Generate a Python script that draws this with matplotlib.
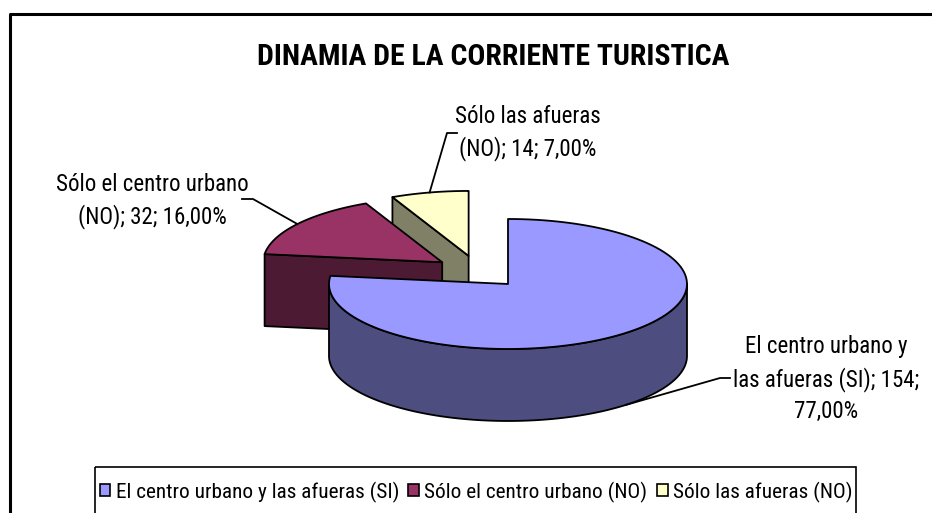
import numpy as np
import matplotlib
matplotlib.use("Agg")
import matplotlib.pyplot as plt
from matplotlib.patches import Polygon, Rectangle

# Datos del grafico
categorias = ["El centro urbano y las afueras (SI)",
              "Sólo el centro urbano (NO)",
              "Sólo las afueras (NO)"]
valores = [154, 32, 14]
colores = ["#9999FF", "#993366", "#FFFFCC"]
titulo = "DINAMIA DE LA CORRIENTE TURISTICA"
# nombres como aparecen cortados en las etiquetas
cat_etiqueta = ["El centro urbano y\nlas afueras (SI)",
                "Sólo el centro urbano\n(NO)",
                "Sólo las afueras\n(NO)"]
sep_etiqueta = ["\n", " ", " "]

plt.rcParams['font.family'] = ['Roboto Condensed', 'Liberation Sans', 'DejaVu Sans']

W, H = 932, 513
fig = plt.figure(figsize=(W / 100, H / 100), dpi=100, facecolor='w')
ax = fig.add_axes([0, 0, 1, 1])
ax.set_xlim(0, W)
ax.set_ylim(H, 0)
ax.axis('off')

# geometria del pastel 3D (en pixeles)
cx, cy = 478.4, 271.8
rx, ry = 179.0, 65.0
prof = 72.0
expl = 0.25

total = float(sum(valores))
frac = np.array(valores) / total
ang = np.concatenate([[0.0], np.cumsum(frac) * 360.0])


def borde(x0, y0, phi):
    r = np.radians(phi)
    return x0 + rx * np.sin(r), y0 - ry * np.cos(r)


def arco(x0, y0, a, b, n=120):
    phi = np.linspace(a, b, n)
    x, y = borde(x0, y0, phi)
    return np.column_stack([x, y])


def oscuro(c):
    rgb = np.array(matplotlib.colors.to_rgb(c))
    return tuple(rgb * 0.5)


rebanadas = []
for i in range(len(valores)):
    a, b = ang[i], ang[i + 1]
    mid = 0.5 * (a + b)
    r = np.radians(mid)
    x0 = cx + expl * rx * np.sin(r)
    y0 = cy - expl * ry * np.cos(r)
    rebanadas.append((y0, i, a, b, mid, x0))

kw = dict(edgecolor='k', linewidth=1.3, joinstyle='round')
puntas = {}
# de atras hacia adelante
for y0, i, a, b, mid, x0 in sorted(rebanadas):
    top = colores[i]
    lado = oscuro(top)
    # pared exterior visible (mitad frontal)
    w0, w1 = max(a, 90.0), min(b, 270.0)
    if w1 > w0:
        sup = arco(x0, y0, w0, w1)
        inf = sup[::-1] + np.array([0, prof])
        ax.add_patch(Polygon(np.vstack([sup, inf]), closed=True, facecolor=lado, **kw))
    # caras radiales visibles
    for phi, normal in ((a, a - 90.0), (b, b + 90.0)):
        if np.cos(np.radians(normal)) < -1e-6:
            px, py = borde(x0, y0, phi)
            cara = [(x0, y0), (px, py), (px, py + prof), (x0, y0 + prof)]
            ax.add_patch(Polygon(cara, closed=True, facecolor=lado, **kw))
    # cara superior
    cara = np.vstack([[x0, y0], arco(x0, y0, a, b), [x0, y0]])
    ax.add_patch(Polygon(cara, closed=True, facecolor=top, **kw))
    # punto para la linea guia
    px, py = borde(x0, y0, mid)
    if np.cos(np.radians(mid)) < 0:
        py += prof
    puntas[i] = (px, py)

# etiquetas de datos con lineas guia
pos_texto = [(826, 379), (152, 201), (528, 133)]
codos = [[(720, 378), (730, 378)], [(253, 199), (242, 199)], [(447, 133), (457, 133)]]
for i in range(len(valores)):
    pct = f"{frac[i] * 100:.2f}%".replace(".", ",")
    txt = f"{cat_etiqueta[i]}; {valores[i]};{sep_etiqueta[i]}{pct}"
    xs = [puntas[i][0]] + [p[0] for p in codos[i]]
    ys = [puntas[i][1]] + [p[1] for p in codos[i]]
    ax.plot(xs, ys, color='k', linewidth=1.3)
    ax.text(pos_texto[i][0], pos_texto[i][1], txt, ha='center', va='center',
            fontsize=16.5, linespacing=1.45)

# titulo
ax.text(493, 57, titulo, ha='center', va='center', fontsize=21.4, fontweight='bold')

# marco del grafico
ax.plot([10, 10, W + 5], [H + 5, 14, 14], color='k', linewidth=2.2, clip_on=False)

# leyenda
ax.add_patch(Rectangle((95, 467), 856 - 95, 80, facecolor='none', edgecolor='k', linewidth=1.2))
manijas = [Rectangle((0, 0), 1, 1, facecolor=c, edgecolor='k', linewidth=1.2) for c in colores]
fig.legend(manijas, categorias, loc='center', bbox_to_anchor=(476 / W, 1 - 492 / H),
           ncol=3, frameon=False, fontsize=15.3, handlelength=0.5, handleheight=0.5,
           handletextpad=0.25, columnspacing=0.45, borderpad=0)

plt.savefig("out.png", dpi=100, facecolor='w')
